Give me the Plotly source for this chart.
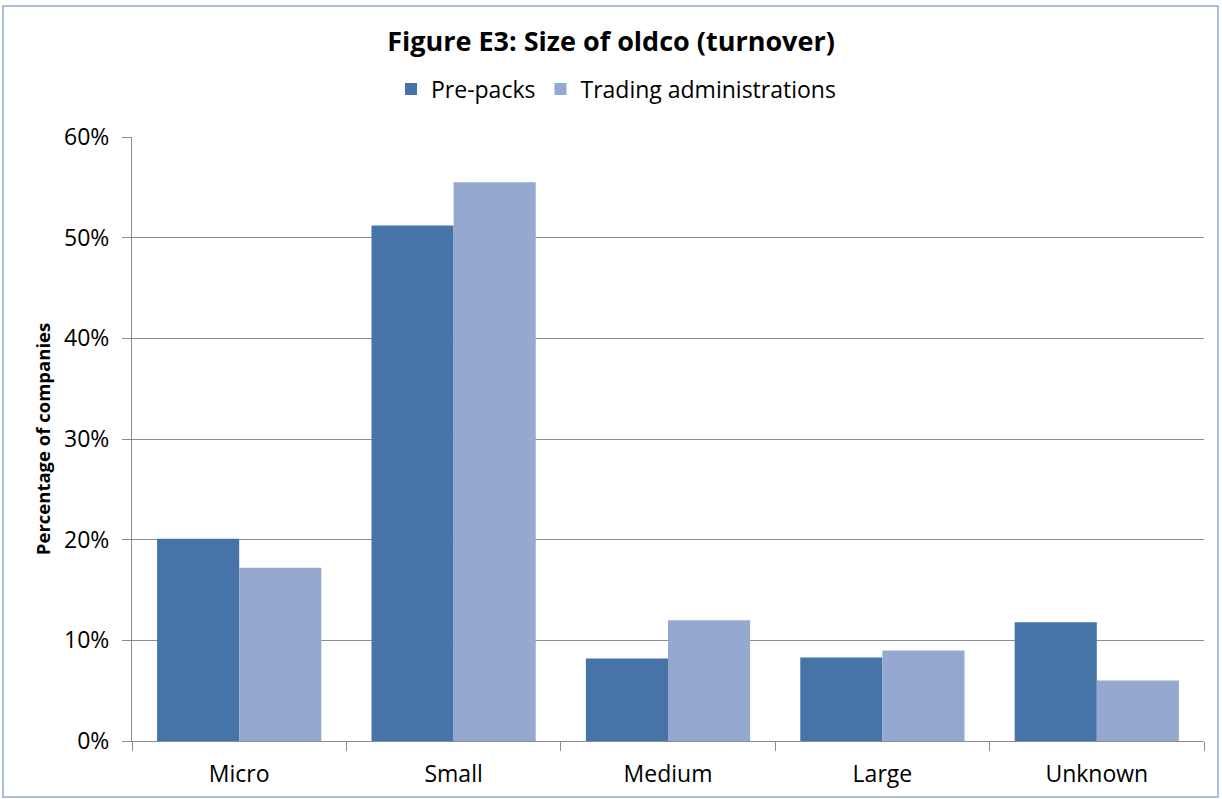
import plotly.graph_objects as go

categories = ["Micro", "Small", "Medium", "Large", "Unknown"]
pre_packs = [20.1, 51.2, 8.2, 8.3, 11.8]
trading = [17.2, 55.5, 12.0, 9.0, 6.0]
y_ticks = [0, 10, 20, 30, 40, 50, 60]
y_tick_labels = [f"{v}%" for v in y_ticks]

FONT = "Open Sans"

fig = go.Figure()
fig.add_trace(go.Bar(x=categories, y=pre_packs, name="Pre-packs",
                     marker=dict(color="#4673A8", line=dict(width=0))))
fig.add_trace(go.Bar(x=categories, y=trading, name="Trading administrations",
                     marker=dict(color="#95A9D0", line=dict(width=0))))

L, R, T, B = 132, 18, 137, 58
W, H = 1222, 799
pw, ph = W - L - R, H - T - B

fig.update_layout(
    width=W, height=H,
    margin=dict(l=L, r=R, t=T, b=B, autoexpand=False),
    paper_bgcolor="white", plot_bgcolor="white",
    barmode="group", bargap=0.234, bargroupgap=0,
    font=dict(family=FONT, size=22, color="black"),
    title=dict(text="<b>Figure E3: Size of oldco (turnover)</b>",
               x=0.5, xanchor="center", y=1 - 42 / H, yanchor="middle",
               font=dict(family=FONT, size=27)),
    legend=dict(orientation="h", x=(616 - L) / pw, xanchor="center",
                y=(H - B - 89) / ph, yref="paper", yanchor="middle",
                font=dict(family=FONT, size=23), itemwidth=30,
                traceorder="normal"),
    xaxis=dict(type="category", tickson="boundaries", ticks="outside",
               ticklen=9, tickcolor="#8C8C8C", showline=True,
               linecolor="#8C8C8C", linewidth=1, showgrid=False,
               tickfont=dict(size=23), ticklabelstandoff=12, automargin=False),
    yaxis=dict(range=[0, 60], tickvals=y_ticks, ticktext=y_tick_labels,
               ticks="outside", ticklen=9, tickcolor="#8C8C8C",
               showline=True, linecolor="#8C8C8C", linewidth=1,
               showgrid=True, gridcolor="#8C8C8C", gridwidth=1,
               zeroline=False, tickfont=dict(size=23), ticklabelstandoff=8,
               automargin=False,
               title=dict(text="<b>Percentage of companies</b>",
                          font=dict(family=FONT, size=18.5), standoff=8)),
)

fig.add_shape(type="rect", xref="paper", yref="paper",
              x0=(3 - L) / pw, x1=(1218 - L) / pw,
              y0=(H - B - 797) / ph, y1=(H - B - 6) / ph,
              line=dict(color="#8EA9D0", width=1.5), fillcolor="rgba(0,0,0,0)",
              layer="below")

fig.write_html("out.html")
